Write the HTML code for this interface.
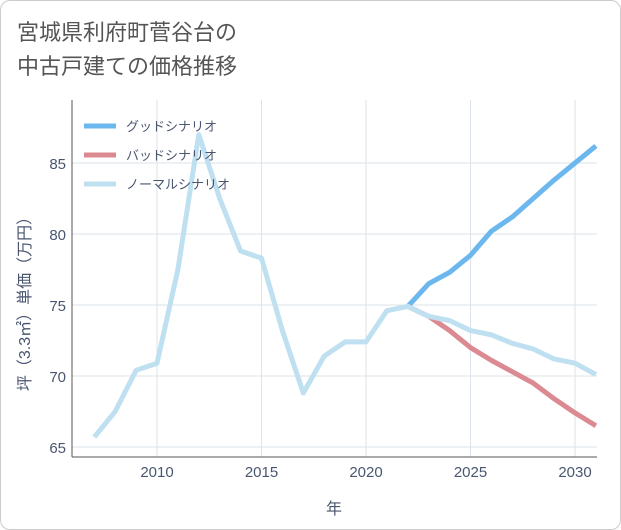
<!DOCTYPE html>
<html><head><meta charset="utf-8"><style>
body{margin:0;background:#fff;}
#wrap{position:relative;width:621px;height:530px;font-family:"Liberation Sans","Noto Sans CJK JP",sans-serif;}
#frame{position:absolute;left:0;top:0;width:619px;height:528px;border:1px solid #ccc;border-radius:10px;background:#fff;}
#title{position:absolute;left:17px;top:16px;font-size:22px;line-height:34px;color:#555;}
</style></head><body>
<div id="wrap">
<div id="frame"></div>
<div id="title">宮城県利府町菅谷台の<br>中古戸建ての価格推移</div>
<svg id="chart" width="621" height="530" style="position:absolute;left:0;top:0"></svg>
</div>
<script>
const years=[2007,2008,2009,2010,2011,2012,2013,2014,2015,2016,2017,2018,2019,2020,2021,2022,2023,2024,2025,2026,2027,2028,2029,2030,2031];
const normalValues=[65.7,67.5,70.4,70.9,77.5,87.0,82.5,78.8,78.3,73.2,68.8,71.4,72.4,72.4,74.6,74.9,74.2,73.9,73.2,72.9,72.3,71.9,71.2,70.9,70.1];
const forecastYears=[2022,2023,2024,2025,2026,2027,2028,2029,2030,2031];
const goodValues=[74.9,76.5,77.3,78.5,80.2,81.2,82.5,83.8,85.0,86.2];
const badValues=[74.9,74.2,73.2,72.0,71.1,70.3,69.5,68.4,67.4,66.5];
const xTicks=[2010,2015,2020,2025,2030];
const yTicks=[65,70,75,80,85];
const legendLabels=["グッドシナリオ","バッドシナリオ","ノーマルシナリオ"];
const colors=["#6cb8ee","#dc8a92","#bfe0f0"];
const TXT="#4a5670";
const NS="http://www.w3.org/2000/svg";
const svg=document.getElementById('chart');
const L=72,R=597,T=100,B=457;
const x=v=>157+(v-2010)*20.9;
const y=v=>447-(v-65)*14.2;
function mk(t,a){const e=document.createElementNS(NS,t);for(const k in a)e.setAttribute(k,a[k]);svg.appendChild(e);return e;}
xTicks.forEach(t=>{
 const g=mk('line',{x1:x(t),x2:x(t),y1:T,y2:B,stroke:'#dde3ea'});
 
 
 const l=mk('text',{x:x(t),y:B+20,'text-anchor':'middle','font-size':15,fill:TXT});l.textContent=t;
 
 
});
yTicks.forEach(t=>{
 const g=mk('line',{x1:L,x2:R,y1:y(t),y2:y(t),stroke:'#dde3ea'});
 
 
 const l=mk('text',{x:L-6,y:y(t)+6,'text-anchor':'end','font-size':15,fill:TXT});l.textContent=t;
 
 
});
const ax=mk('line',{x1:L,x2:L,y1:T,y2:B,stroke:'#555'});


const bx=mk('line',{x1:L,x2:R,y1:B,y2:B,stroke:'#555'});


function line(xs,vs,c,name){
 const p=mk('polyline',{points:xs.map((v,i)=>x(v)+','+y(vs[i])).join(' '),fill:'none',stroke:c,'stroke-width':5,'stroke-linejoin':'round'});
 
 
}
line(forecastYears,goodValues,colors[0],'good-scenario-line');
line(forecastYears,badValues,colors[1],'bad-scenario-line');
line(years,normalValues,colors[2],'normal-scenario-line');
legendLabels.forEach((s,i)=>{
 const yy=126+i*29;
 const m=mk('line',{x1:84,x2:116,y1:yy,y2:yy,stroke:colors[i],'stroke-width':5});
 
 
 const t=mk('text',{x:126,y:yy+5,'font-size':13,fill:TXT});t.textContent=s;
 
 
});
const xt=mk('text',{x:334,y:514,'text-anchor':'middle','font-size':16,fill:TXT});xt.textContent='年';


const yt=mk('text',{x:0,y:0,'text-anchor':'middle','font-size':16,fill:TXT,transform:'translate(30,300) rotate(-90)'});yt.textContent='坪（3.3㎡）単価（万円）';


</script>
</body></html>
